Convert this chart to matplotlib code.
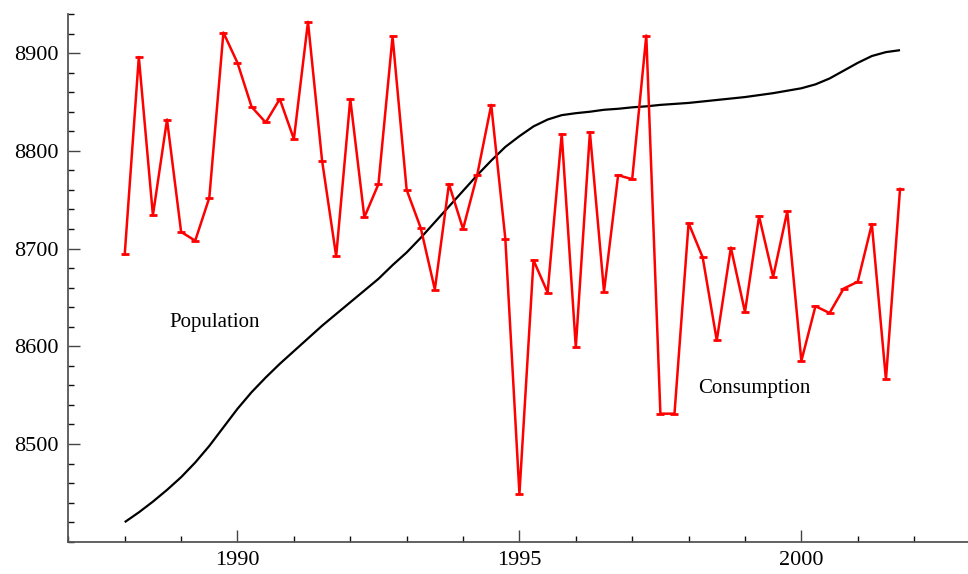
import numpy as np
import matplotlib
matplotlib.use("Agg")
import matplotlib.pyplot as plt
from matplotlib.ticker import MultipleLocator

# Quarterly series, 1988 Q1 .. 2001 Q4
start_year = 1988.0
consumption = [
    8694, 8896, 8734, 8832, 8717, 8708, 8752, 8921,
    8890, 8845, 8829, 8853, 8812, 8932, 8790, 8692,
    8853, 8732, 8766, 8917, 8760, 8721, 8658, 8766,
    8720, 8775, 8847, 8710, 8449, 8688, 8655, 8817,
    8599, 8819, 8656, 8775, 8771, 8918, 8531, 8531,
    8726, 8691, 8606, 8701, 8635, 8733, 8671, 8738,
    8585, 8641, 8634, 8659, 8666, 8725, 8566, 8761,
]
population = [
    8420, 8430, 8441, 8453, 8466, 8481, 8498, 8517,
    8536, 8553, 8568, 8582, 8595, 8608, 8621, 8633,
    8645, 8657, 8669, 8683, 8696, 8711, 8727, 8743,
    8759, 8775, 8790, 8804, 8815, 8825, 8832, 8836.5,
    8838.5, 8840, 8842, 8843, 8844.5, 8845.5, 8847, 8848,
    8849, 8850.5, 8852, 8853.5, 8855, 8857, 8859, 8861.5,
    8864, 8868, 8874, 8882, 8890, 8897, 8901, 8903,
]
years = start_year + 0.25 * np.arange(len(consumption))

plt.rcParams['font.family'] = ['Liberation Serif', 'DejaVu Serif']

fig = plt.figure(figsize=(9.68, 5.74), dpi=100)
ax = fig.add_axes([0.0706, 0.0563, 0.932, 0.9193])

ax.plot(years, population, color='black', lw=1.6,
        solid_joinstyle='round', solid_capstyle='butt')
ax.plot(years, consumption, color='#ff0000', lw=1.8,
        solid_joinstyle='round',
        marker='_', markersize=6, markeredgewidth=2.0)

ax.text(1989.59, 8624, 'Population', fontsize=15, ha='center', va='center')
ax.text(1999.17, 8557, 'Consumption', fontsize=15, ha='center', va='center')

ax.set_xlim(1987, 2003)
ax.set_ylim(8400, 8940)

# axes crossing at the lower-left corner, ticks pointing inward
for side in ('top', 'right'):
    ax.spines[side].set_visible(False)
for side in ('left', 'bottom'):
    ax.spines[side].set_color('#555555')
    ax.spines[side].set_linewidth(1.3)

ax.xaxis.set_major_locator(MultipleLocator(5))
ax.xaxis.set_minor_locator(MultipleLocator(1))
ax.yaxis.set_major_locator(MultipleLocator(100))
ax.yaxis.set_minor_locator(MultipleLocator(20))
ax.tick_params(which='both', direction='in', width=1.0)
ax.tick_params(which='major', length=8.6, color='#444444')
ax.tick_params(which='minor', length=4.1, color='#111111')
ax.tick_params(axis='x', which='major', labelsize=16, pad=7)
ax.tick_params(axis='y', which='major', labelsize=16, pad=7)

# no labels on the corner where the axes meet
ax.set_xticks([1990, 1995, 2000])
ax.set_yticks([8500, 8600, 8700, 8800, 8900])

fig.savefig('out.png', dpi=100)
